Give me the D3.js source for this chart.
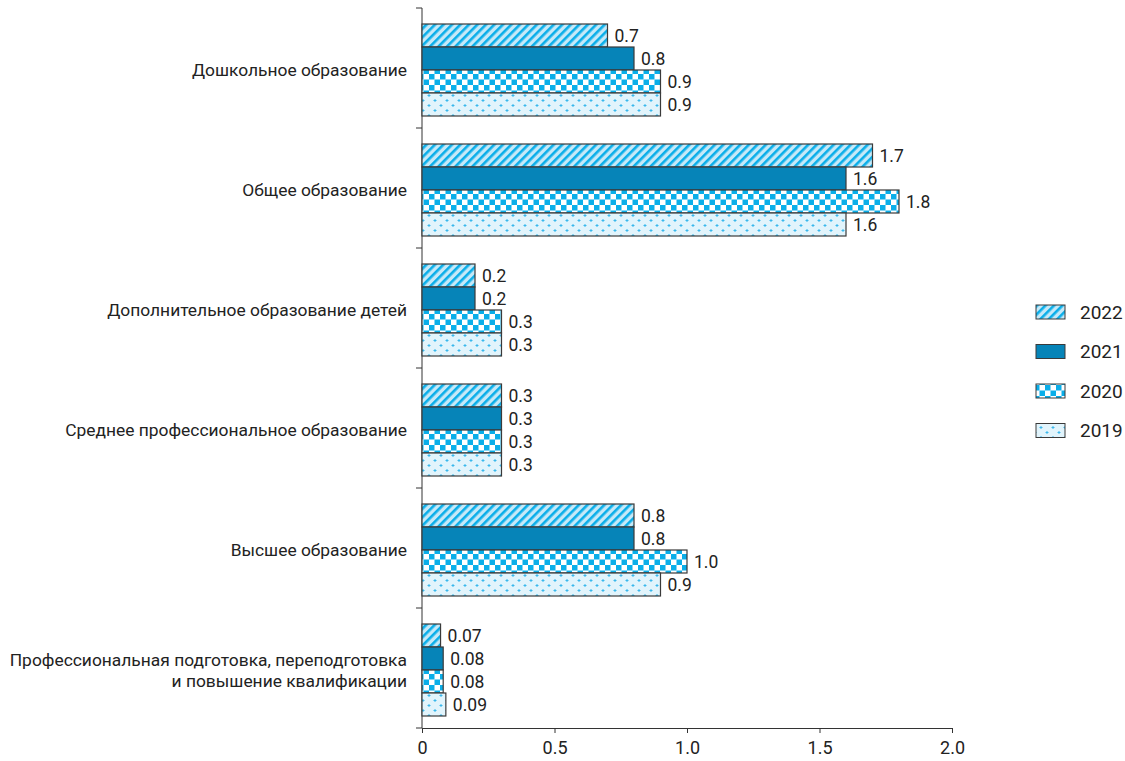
<!DOCTYPE html>
<html><head><meta charset="utf-8">
<script src="https://cdn.jsdelivr.net/npm/d3@7"></script>
<style>
body{margin:0;background:#fff;}
text{font-family:Roboto,"Noto Sans",sans-serif;fill:#222;}
</style></head>
<body><svg id="c" width="1125" height="761"></svg>
<script>
const categories = [
  "Дошкольное образование",
  "Общее образование",
  "Дополнительное образование детей",
  "Среднее профессиональное образование",
  "Высшее образование",
  "Профессиональная подготовка, переподготовка|и повышение квалификации"
];
const years = ["2022","2021","2020","2019"];
const v2022 = [0.7, 1.7, 0.2, 0.3, 0.8, 0.07];
const v2021 = [0.8, 1.6, 0.2, 0.3, 0.8, 0.08];
const v2020 = [0.9, 1.8, 0.3, 0.3, 1.0, 0.08];
const v2019 = [0.9, 1.6, 0.3, 0.3, 0.9, 0.09];
const labels2022 = ["0.7","1.7","0.2","0.3","0.8","0.07"];
const labels2021 = ["0.8","1.6","0.2","0.3","0.8","0.08"];
const labels2020 = ["0.9","1.8","0.3","0.3","1.0","0.08"];
const labels2019 = ["0.9","1.6","0.3","0.3","0.9","0.09"];
const xTicks = [0, 0.5, 1.0, 1.5, 2.0];
const xTickLabels = ["0","0.5","1.0","1.5","2.0"];

const series = [v2022, v2021, v2020, v2019];
const seriesLabels = [labels2022, labels2021, labels2020, labels2019];
const fills = ["url(#p2022)", "#0684b8", "url(#p2020)", "url(#p2019)"];

const svg = d3.select("#c");
const defs = svg.append("defs");
const cyan = "#0aaee9";
// stripes
let p = defs.append("pattern").attr("id","p2022").attr("patternUnits","userSpaceOnUse")
  .attr("width",6).attr("height",6).attr("patternTransform","rotate(45)");
p.append("rect").attr("width",6).attr("height",6).attr("fill","#c6e9f8");
p.append("rect").attr("width",2.6).attr("height",6).attr("fill",cyan);
// checker
p = defs.append("pattern").attr("id","p2020").attr("patternUnits","userSpaceOnUse")
  .attr("width",11).attr("height",11);
p.append("rect").attr("width",11).attr("height",11).attr("fill","#fff");
p.append("rect").attr("width",5.5).attr("height",5.5).attr("fill",cyan);
p.append("rect").attr("x",5.5).attr("y",5.5).attr("width",5.5).attr("height",5.5).attr("fill",cyan);
// dots
p = defs.append("pattern").attr("id","p2019").attr("patternUnits","userSpaceOnUse")
  .attr("width",12).attr("height",10);
p.append("rect").attr("width",12).attr("height",10).attr("fill","#e1f4fc");
[[3,2.5],[9,7.5]].forEach(([cx,cy])=>{
  p.append("rect").attr("x",cx-1.5).attr("y",cy-0.5).attr("width",3).attr("height",1).attr("fill","#3ab8ec");
  p.append("rect").attr("x",cx-0.5).attr("y",cy-1.5).attr("width",1).attr("height",3).attr("fill","#3ab8ec");
});

const x = d3.scaleLinear().domain([0,2]).range([422,952]);
const y = d3.scaleBand().domain(categories).range([8,728]);
const inner = d3.scaleBand().domain(years).range([16, 108]);

// axes
const gx = svg.append("g").attr("transform","translate(0,728)")
  .call(d3.axisBottom(x).tickValues(xTicks).tickFormat((d,i)=>xTickLabels[i]).tickSize(5).tickSizeOuter(0));
gx.select(".domain").attr("stroke","#333");
gx.selectAll(".tick line").attr("stroke","#333");
gx.selectAll(".tick text").attr("font-size",18).attr("dy","1.0em").attr("fill","#222");

const gy = svg.append("g").attr("transform","translate(422,0)");
gy.append("line").attr("x1",0).attr("x2",0).attr("y1",8).attr("y2",728).attr("stroke","#333");
const bounds = categories.map(c=>y(c)).concat([728]);
gy.selectAll("line.t").data(bounds).join("line").attr("class","t")
  .attr("x1",-6).attr("x2",0).attr("y1",d=>d).attr("y2",d=>d).attr("stroke","#333");

// bars
categories.forEach((c,ci)=>{
  const g = svg.append("g").attr("transform",`translate(0,${y(c)})`);
  years.forEach((yr,si)=>{
    const val = series[si][ci];
    g.append("rect").attr("x",x(0)).attr("y",inner(yr)).attr("width",x(val)-x(0))
      .attr("height",inner.bandwidth()).attr("fill",fills[si]).attr("stroke","#3a3a3a").attr("stroke-width",1.2);
    g.append("text").attr("x",x(val)+7).attr("y",inner(yr)+inner.bandwidth()/2).attr("dy","0.36em")
      .attr("font-size",17.5).text(seriesLabels[si][ci]);
  });
  const lines = c.split("|");
  const cy = y(c) + 16 + 46;
  const t = svg.append("text").attr("text-anchor","end").attr("font-size",17.4).attr("x",407);
  lines.forEach((ln,li)=>{
    t.append("tspan").attr("x",407).attr("y",cy + (li-(lines.length-1)/2)*21).attr("dy","0.36em").text(ln);
  });
});

// legend
const leg = svg.append("g");
years.forEach((yr,i)=>{
  const ly = 312 + i*39.5;
  leg.append("rect").attr("x",1036).attr("y",ly-7).attr("width",29).attr("height",14)
    .attr("fill",fills[i]).attr("stroke","#3a3a3a").attr("stroke-width",1);
  leg.append("text").attr("x",1080).attr("y",ly).attr("dy","0.36em").attr("font-size",19).text(yr);
});
</script></body></html>
